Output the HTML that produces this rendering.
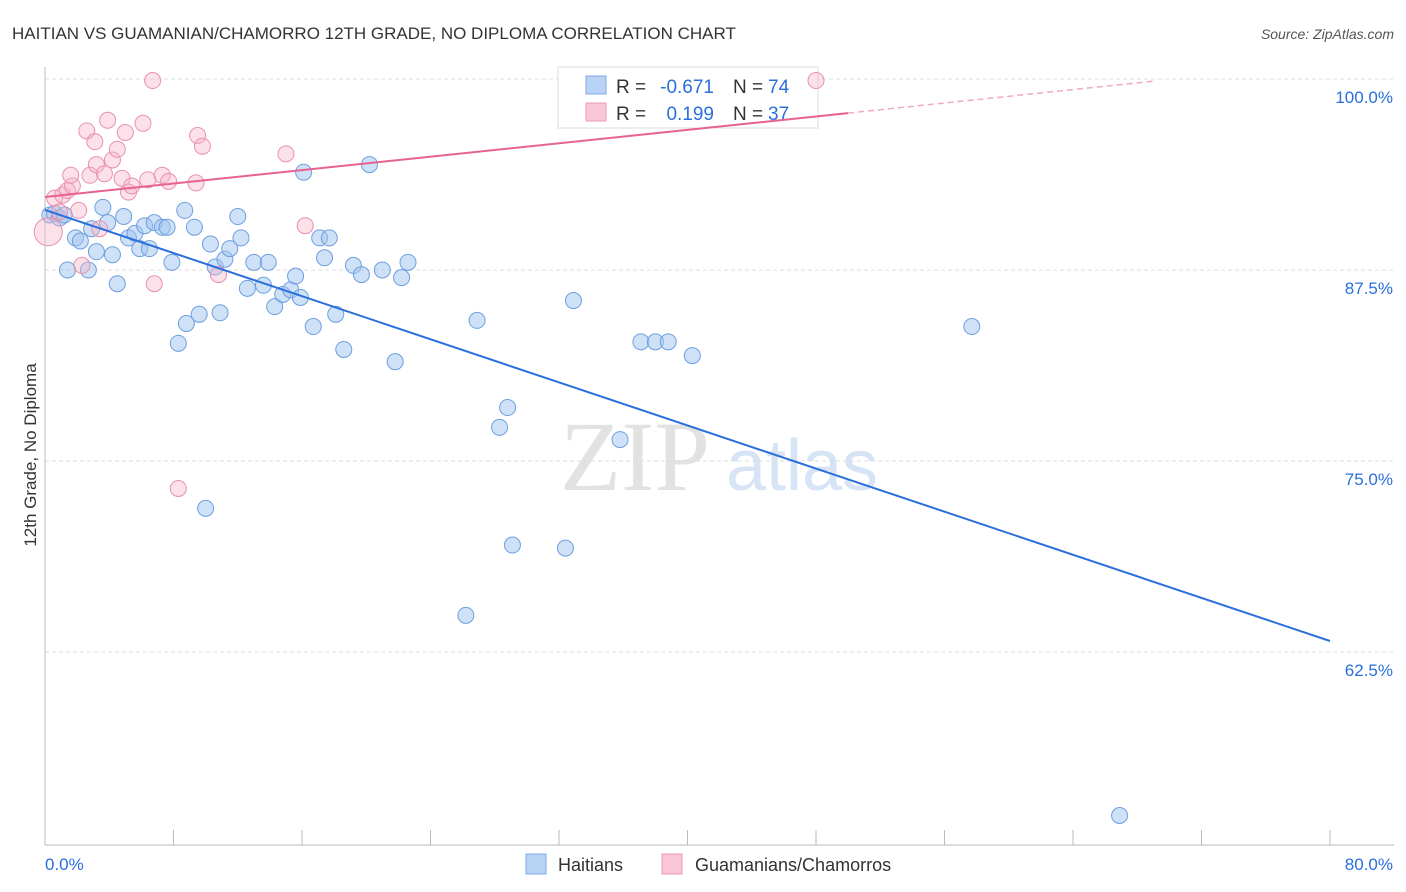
<!DOCTYPE html>
<html><head><meta charset="utf-8"><style>
body{margin:0;background:#fff;font-family:"Liberation Sans",sans-serif;}
svg{display:block}
</style></head><body>
<svg id="chart" width="1406" height="892">
<text x="12" y="39" font-size="17" fill="#333">HAITIAN VS GUAMANIAN/CHAMORRO 12TH GRADE, NO DIPLOMA CORRELATION CHART</text>
<text x="1394" y="39" font-size="14" fill="#555" font-style="italic" text-anchor="end">Source: ZipAtlas.com</text>
<text x="36" y="455" font-size="17" fill="#333" text-anchor="middle" transform="rotate(-90 36 455)">12th Grade, No Diploma</text>
<g>
<text x="635" y="490" font-size="100" fill="#e2e2e2" text-anchor="middle" font-family="Liberation Serif, serif">ZIP</text>
<text x="802" y="490" font-size="72" fill="#d6e4f6" text-anchor="middle">atlas</text>
</g>
<g id="grid"></g><g id="axes"></g>
<g>
<rect x="558" y="67" width="260" height="61" fill="#fff" stroke="#ddd"/>
<rect x="586" y="76" width="20" height="18" fill="#b9d3f5" stroke="#7aa7e6"/>
<rect x="586" y="103" width="20" height="18" fill="#f9c6d6" stroke="#ea9ab6"/>
<text x="616" y="93" font-size="19" fill="#333">R =</text>
<text x="714" y="93" font-size="19" fill="#2a6fdb" text-anchor="end">-0.671</text>
<text x="733" y="93" font-size="19" fill="#333">N =</text>
<text x="768" y="93" font-size="19" fill="#2a6fdb">74</text>
<text x="616" y="120" font-size="19" fill="#333">R =</text>
<text x="714" y="120" font-size="19" fill="#2a6fdb" text-anchor="end">0.199</text>
<text x="733" y="120" font-size="19" fill="#333">N =</text>
<text x="768" y="120" font-size="19" fill="#2a6fdb">37</text>
</g>
<g id="marks"></g>
<g>
<rect x="526" y="854" width="20" height="20" fill="#b9d3f5" stroke="#7aa7e6"/>
<text x="558" y="871" font-size="18" fill="#333">Haitians</text>
<rect x="662" y="854" width="20" height="20" fill="#f9c6d6" stroke="#ea9ab6"/>
<text x="695" y="871" font-size="18" fill="#333">Guamanians/Chamorros</text>
</g>
</svg>
<script>
const blueX=[0.3,0.6,0.9,1.2,1.4,1.9,2.2,2.7,2.9,3.2,3.6,3.9,4.2,4.5,4.9,5.2,5.6,5.9,6.2,6.5,6.8,7.3,7.6,7.9,8.3,8.7,8.8,9.3,9.6,10.0,10.3,10.6,10.9,11.2,11.5,12.0,12.2,12.6,13.0,13.6,13.9,14.3,14.8,15.3,15.6,15.9,16.1,16.7,17.1,17.4,17.7,18.1,18.6,19.2,19.7,20.2,21.0,21.8,22.2,22.6,26.2,26.9,28.3,28.8,29.1,32.4,32.9,35.8,37.1,38.0,38.8,40.3,57.7,66.9];
const blueY=[91.1,91.2,90.9,91.1,87.5,89.6,89.4,87.5,90.2,88.7,91.6,90.6,88.5,86.6,91.0,89.6,89.9,88.9,90.4,88.9,90.6,90.3,90.3,88.0,82.7,91.4,84.0,90.3,84.6,71.9,89.2,87.7,84.7,88.2,88.9,91.0,89.6,86.3,88.0,86.5,88.0,85.1,85.9,86.2,87.1,85.7,93.9,83.8,89.6,88.3,89.6,84.6,82.3,87.8,87.2,94.4,87.5,81.5,87.0,88.0,64.9,84.2,77.2,78.5,69.5,69.3,85.5,76.4,82.8,82.8,82.8,81.9,83.8,51.8];
const pinkX=[0.6,1.1,1.4,1.7,1.6,2.1,2.3,2.6,2.8,3.1,3.2,3.4,3.7,3.9,4.2,4.5,4.8,5.0,5.2,5.4,6.1,6.4,6.7,6.8,7.3,7.7,8.3,9.4,9.5,9.8,10.8,15.0,16.2,48.0,0.9];
const pinkY=[92.2,92.4,92.7,93.0,93.7,91.4,87.8,96.6,93.7,95.9,94.4,90.2,93.8,97.3,94.7,95.4,93.5,96.5,92.6,93.0,97.1,93.4,99.9,86.6,93.7,93.3,73.2,93.2,96.3,95.6,87.2,95.1,90.4,99.9,91.3];
const yTicks=[100,87.5,75,62.5];
const yTickLabels=["100.0%","87.5%","75.0%","62.5%"];
const xTickLabels=["0.0%","80.0%"];
const blueFit=[91.43,63.22];
const pinkFit=[92.28,97.77];
const NS="http://www.w3.org/2000/svg";
const sx=v=>45+v/80*1285;
const sy=v=>79+(100-v)*15.28;
function mk(tag,attrs,parent){const e=document.createElementNS(NS,tag);for(const k in attrs)e.setAttribute(k,attrs[k]);parent.appendChild(e);return e;}
const grid=document.getElementById('grid'),axes=document.getElementById('axes'),marks=document.getElementById('marks');
yTicks.forEach((t,i)=>{
 const l=mk('line',{x1:45,x2:1394,y1:sy(t),y2:sy(t),stroke:'#ddd','stroke-dasharray':'4,3'},grid);
 
 
 const tx=mk('text',{x:1393,y:sy(t)+24,'font-size':17,fill:'#2a6fdb','text-anchor':'end'},axes);
 tx.textContent=yTickLabels[i];
 
 
});
mk('line',{x1:45,x2:45,y1:67,y2:845,stroke:'#bbb'},axes);
mk('line',{x1:45,x2:1394,y1:845,y2:845,stroke:'#bbb'},axes);
for(let i=0;i<=10;i++){mk('line',{x1:sx(i*8),x2:sx(i*8),y1:830,y2:845,stroke:'#bbb'},axes);}
[[0,45,'start'],[80,1393,'end']].forEach((d,i)=>{
 const t=mk('text',{x:d[1],y:870,'font-size':17,fill:'#2a6fdb','text-anchor':d[2]},axes);
 t.textContent=xTickLabels[i];
 
 
});
blueX.forEach((x,i)=>{
 const c=mk('circle',{cx:sx(x),cy:sy(blueY[i]),r:8,fill:'rgba(160,196,240,0.5)',stroke:'#6d9fe0','stroke-width':1},marks);
 
 
});
pinkX.forEach((x,i)=>{
 const c=mk('circle',{cx:sx(x),cy:sy(pinkY[i]),r:8,fill:'rgba(248,180,200,0.4)',stroke:'#e890b0','stroke-width':1},marks);
 
 
});
const big1=mk('circle',{cx:sx(0.2),cy:sy(90.0),r:14,fill:'rgba(248,180,200,0.4)',stroke:'#e890b0'},marks);


const bl=mk('line',{x1:sx(0),y1:sy(blueFit[0]),x2:sx(80),y2:sy(blueFit[1]),stroke:'#2a6fdb','stroke-width':2},marks);


const ps=(pinkFit[1]-pinkFit[0])/50;
const pl=mk('line',{x1:sx(0),y1:sy(pinkFit[0]),x2:sx(50),y2:sy(pinkFit[1]),stroke:'#e8628f','stroke-width':2},marks);


const pd=mk('line',{x1:sx(50),y1:sy(pinkFit[1]),x2:sx(69),y2:sy(pinkFit[0]+ps*69),stroke:'#eeaac0','stroke-width':1.5,'stroke-dasharray':'6,4'},marks);


</script>
</body></html>
